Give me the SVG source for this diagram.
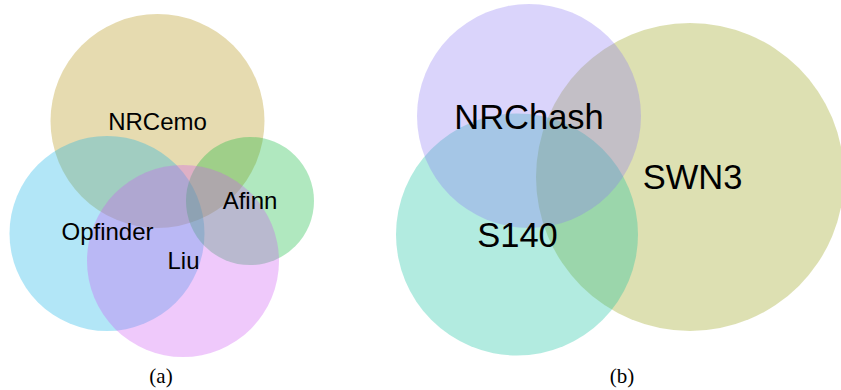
<svg xmlns="http://www.w3.org/2000/svg" width="841" height="390" viewBox="0 0 841 390">
<style>
circle{fill-opacity:0.32;stroke:none}
.lbl{font-family:"Liberation Sans",Arial,sans-serif;fill:#000;text-anchor:middle}
.a{font-size:24px}
.b{font-size:34.5px}
.cap{font-family:"Liberation Serif","Times New Roman",serif;font-size:21px;fill:#000;text-anchor:middle}
</style>
<rect width="841" height="390" fill="#fff"/>
<g id="panel-a">
<g id="NRCemo"><circle cx="157.5" cy="121" r="107" fill="#b18e08"/></g>
<g id="Opfinder"><circle cx="107" cy="233.5" r="97.5" fill="#11b1e6"/></g>
<g id="Afinn"><circle cx="250" cy="201" r="64" fill="#08b737"/></g>
<g id="Liu"><circle cx="183" cy="261" r="96" fill="#cd56f2"/></g>
<text class="lbl a" x="157.5" y="130">NRCemo</text>
<text class="lbl a" x="107.5" y="240">Opfinder</text>
<text class="lbl a" x="183.5" y="269">Liu</text>
<text class="lbl a" x="250" y="209">Afinn</text>
<text class="cap" x="161" y="383">(a)</text>
</g>
<g id="panel-b">
<g id="SWN3"><circle cx="690" cy="177" r="154" fill="#959e0e"/></g>
<g id="S140"><circle cx="517" cy="234.5" r="121" fill="#0ec09e"/></g>
<g id="NRChash"><circle cx="529" cy="116" r="112" fill="#8b79f2"/></g>
<text class="lbl b" x="529" y="129">NRChash</text>
<text class="lbl b" x="692.5" y="189">SWN3</text>
<text class="lbl b" x="517.5" y="247">S140</text>
<text class="cap" x="622" y="383">(b)</text>
</g>
</svg>
